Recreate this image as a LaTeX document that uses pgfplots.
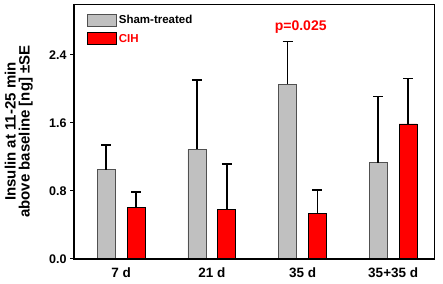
\documentclass[border=0pt]{standalone}
\usepackage{pgfplots}
\pgfplotsset{compat=1.18}
\usepackage{fontspec}
\setmainfont{Liberation Sans}
\definecolor{shamgray}{RGB}{192,192,192}
\definecolor{shamedge}{RGB}{80,80,80}
\definecolor{cihred}{RGB}{255,0,0}
\begin{document}
\begin{tikzpicture}
\begin{axis}[
 scale only axis, width=360pt, height=255pt,
 xmin=-0.52, xmax=3.45, ymin=0, ymax=3.0,
 clip=false,
 axis line style={line width=0.9pt, black},
 xtick={0,1,2,3}, xticklabels={7 d,21 d,35 d,35+35 d},
 x tick style={draw=none},
 x tick label style={font=\fontsize{13.5}{13.5}\selectfont\bfseries, yshift=-1pt},
 ytick={0,0.8,1.6,2.4},
 y tick label style={font=\fontsize{12.5}{12.5}\selectfont\bfseries, /pgf/number format/fixed, /pgf/number format/fixed zerofill, /pgf/number format/precision=1, /pgf/number format/assume math mode=true},
 tick align=outside, ytick pos=left, major tick length=4pt,
 y tick style={line width=1pt, black},
 ylabel={Insulin at 11-25 min\\above baseline [ng] ±SE},
 ylabel style={align=center, font=\fontsize{15}{14}\selectfont\bfseries, at={(axis description cs:-0.114,0.5)}, anchor=south, inner sep=0pt},
 legend style={at={(axis description cs:0,1)}, anchor=north west, xshift=13pt, yshift=-9pt, draw=none, fill=none, font=\fontsize{11.5}{11.5}\selectfont\bfseries, inner sep=0pt, row sep=5pt, legend cell align=left},
 legend image code/.code={\draw[#1] (0pt,-6pt) rectangle (29pt,6pt);},
 error bars/error bar style={line width=1.8pt, black},
 error bars/error mark=|,
 error bars/error mark options={line width=1.8pt, black, mark size=5pt},
]
\addplot[ybar, bar width=18pt, bar shift=0pt, fill=shamgray, draw=shamedge, line width=0.7pt,
  error bars/y dir=plus, error bars/y explicit]
 table[x=x, y=y, y error=e] {
x y e
-0.165 1.050 0.288
0.835 1.291 0.814
1.835 2.058 0.500
2.835 1.133 0.778
};
\addlegendentry{Sham-treated}
\addplot[ybar, bar width=18pt, bar shift=0pt, fill=cihred, draw=black, line width=0.7pt,
  error bars/y dir=plus, error bars/y explicit]
 table[x=x, y=y, y error=e] {
x y e
0.165 0.610 0.177
1.165 0.586 0.528
2.165 0.536 0.275
3.165 1.589 0.535
};
\addlegendentry{\textcolor{cihred}{CIH}}
\node[text=cihred, font=\fontsize{14}{14}\selectfont\bfseries] at (axis cs:1.98,2.73) {p=0.025};
\draw[line width=1.8pt, black] (rel axis cs:0,1) -- (rel axis cs:0,0) -- (rel axis cs:1,0);
\coordinate (ll) at (rel axis cs:0,0);
\coordinate (ur) at (rel axis cs:1,1);
\end{axis}
\pgfresetboundingbox
\useasboundingbox ([shift={(-74pt,-24pt)}]ll) rectangle ([shift={(9pt,4pt)}]ur);
\end{tikzpicture}
\end{document}
